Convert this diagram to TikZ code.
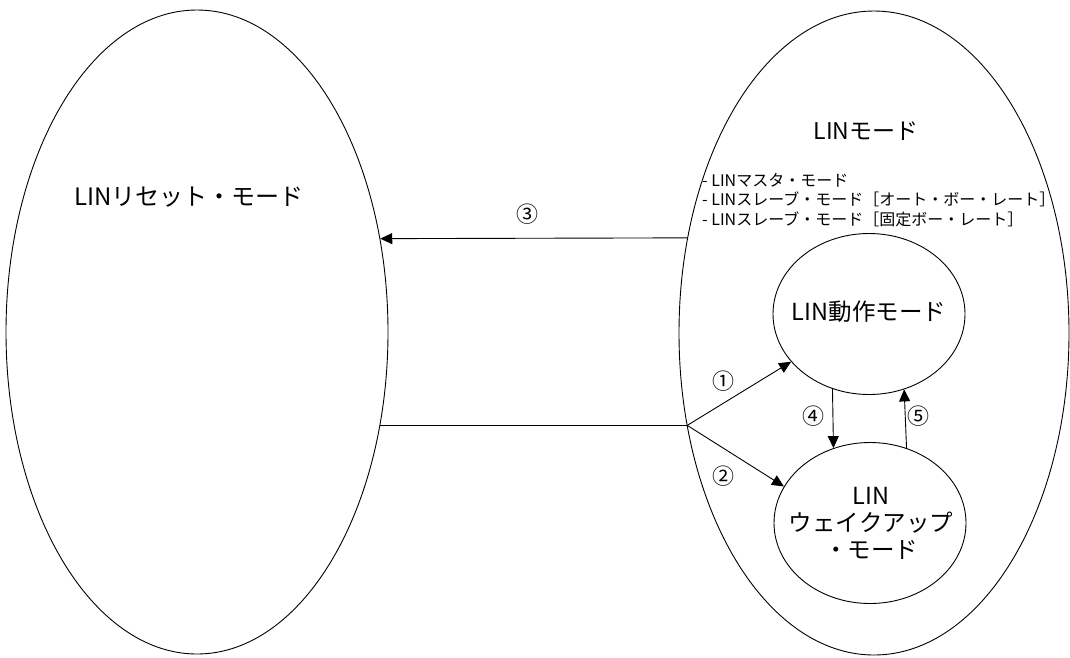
\documentclass[tikz,border=0pt]{standalone}
\usepackage{fontspec}
\setmainfont{Noto Sans CJK JP}
\usetikzlibrary{arrows.meta,shapes.geometric}
\tikzset{
  big/.style={ellipse,draw,line width=0.9pt,inner sep=0pt},
  small/.style={ellipse,draw,line width=0.9pt,inner sep=0pt,minimum width=192pt,minimum height=161pt},
  intext/.style={align=center,inner sep=0pt,font=\fontsize{23.5}{27}\selectfont},
  arr/.style={line width=0.9pt,-{Triangle[length=12pt,width=11pt]}},
  ln/.style={line width=0.9pt},
  num/.style={font=\fontsize{22}{22}\selectfont},
}
\begin{document}
\begin{tikzpicture}[x=1pt,y=-1pt]
\useasboundingbox (0,0) rectangle (1070,657);
\node[big,minimum width=382pt,minimum height=644pt] (L) at (197,332) {};
\node[big,minimum width=390pt,minimum height=644pt] (R) at (874,333) {};
\node[font=\fontsize{24}{24}\selectfont] (lt) at (189,197) {LINリセット・モード};
\node[font=\fontsize{23}{23}\selectfont] (rt) at (866,131) {LINモード};
\node[font=\fontsize{16}{19.5}\selectfont,align=left,anchor=north west,inner sep=0pt] (lst) at (702,173) {- LINマスタ・モード\\- LINスレーブ・モード［オート・ボー・レート］\\- LINスレーブ・モード［固定ボー・レート］};
\node[small] (U) at (869,314) {};
\node[intext] (Ut) at (869,312) {LIN動作モード};
\node[small] (W) at (870,523) {};
\node[intext] (Wt) at (871,523) {LIN\\ウェイクアップ\\・モード};
\coordinate (J) at (L.333 -| R.207);
\draw[arr] (R.153.8) -- (L.27.9);
\draw[ln] (L.333) -- (J);
\draw[arr] (J) -- (U);
\draw[arr] (J) -- (W.157);
\draw[arr] (U.244) -- (W.116);
\draw[arr] (W.64) -- (U.295);
\node[num] (n1) at (723,381) {①};
\node[num] (n2) at (723,476) {②};
\node[num] (n3) at (527,214) {③};
\node[num] (n4) at (813,416) {④};
\node[num] (n5) at (918,416) {⑤};
\end{tikzpicture}
\end{document}
